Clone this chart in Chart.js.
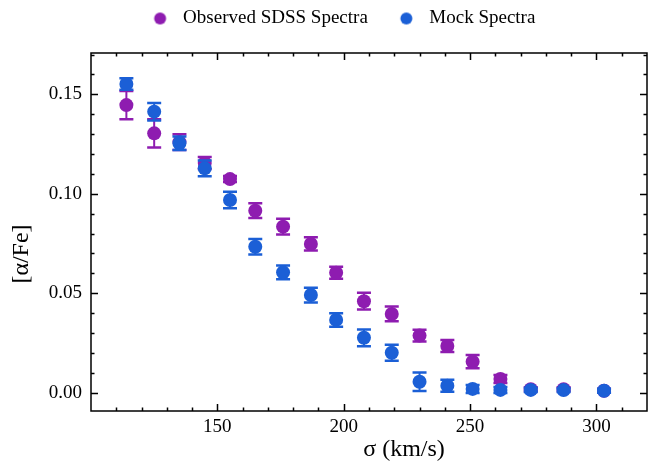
<!DOCTYPE html>
<html>
<head>
<meta charset="utf-8">
<script src="https://cdn.jsdelivr.net/npm/chart.js@4/dist/chart.umd.min.js"></script>
<style>html,body{margin:0;padding:0;background:#fff}</style>
</head>
<body>
<canvas id="c" width="655" height="461" style="display:block;width:655px;height:461px"></canvas>
<script>
// ---- data ----
const sigma = [114, 125, 135, 145, 155, 165, 176, 187, 197, 208, 219, 230, 241, 251, 262, 274, 287, 303];
const observedAlphaFe = [0.1446, 0.1304, 0.1260, 0.1155, 0.1074, 0.0915, 0.0835, 0.0748, 0.0603, 0.0460, 0.0396, 0.0287, 0.0235, 0.0156, 0.0069, 0.0017, 0.0017, 0.0010];
const observedErr     = [0.0071, 0.0071, 0.0040, 0.0030, 0.0015, 0.0037, 0.0040, 0.0033, 0.0030, 0.0042, 0.0037, 0.0030, 0.0030, 0.0033, 0.0020, 0.0010, 0.0010, 0.0010];
const mockAlphaFe     = [0.1552, 0.1413, 0.1254, 0.1128, 0.0969, 0.0734, 0.0605, 0.0491, 0.0366, 0.0276, 0.0201, 0.0055, 0.0035, 0.0019, 0.0014, 0.0014, 0.0013, 0.0010];
const mockErr         = [0.0029, 0.0044, 0.0034, 0.0040, 0.0042, 0.0039, 0.0034, 0.0037, 0.0034, 0.0042, 0.0040, 0.0046, 0.0030, 0.0020, 0.0015, 0.0010, 0.0010, 0.0010];
const seriesNames = ['Observed SDSS Spectra', 'Mock Spectra'];
const xTitle = 'σ (km/s)';
const yTitle = '[α/Fe]';
const xTickValues = [150, 200, 250, 300];
const yTickValues = [0.00, 0.05, 0.10, 0.15];
const xMinorStep = 10;
const yMinorStep = 0.01;

const PURPLE = '#8E1CB0';
const BLUE = '#1B5FD6';
const SERIF = '"Liberation Serif", "Times New Roman", serif';

function legendIcon(color) {
  const c = document.createElement('canvas');
  c.width = 42; c.height = 14;
  const g = c.getContext('2d');
  g.fillStyle = color;
  g.beginPath(); g.arc(28.5, 7, 6, 0, Math.PI * 2); g.fill();
  return c;
}
const icons = [legendIcon(PURPLE), legendIcon(BLUE)];
const errs = [observedErr, mockErr];

const errorBars = {
  id: 'errorBars',
  beforeDatasetDraw(chart, args) {
    const i = args.index;
    const ds = chart.data.datasets[i];
    const e = errs[i];
    const xs = chart.scales.x, ys = chart.scales.y;
    const ctx = chart.ctx;
    ctx.save();
    ctx.strokeStyle = ds.backgroundColor;
    ds.data.forEach((p, k) => {
      const px = xs.getPixelForValue(p.x);
      const y1 = ys.getPixelForValue(p.y - e[k]);
      const y2 = ys.getPixelForValue(p.y + e[k]);
      ctx.lineWidth = 2;
      ctx.beginPath(); ctx.moveTo(px, y1); ctx.lineTo(px, y2); ctx.stroke();
      ctx.lineWidth = 2.5;
      ctx.beginPath();
      ctx.moveTo(px - 7, y1); ctx.lineTo(px + 7, y1);
      ctx.moveTo(px - 7, y2); ctx.lineTo(px + 7, y2);
      ctx.stroke();
    });
    ctx.restore();
  }
};

const frameTicks = {
  id: 'frameTicks',
  afterDraw(chart) {
    const {ctx, chartArea: a} = chart;
    const xs = chart.scales.x, ys = chart.scales.y;
    ctx.save();
    ctx.strokeStyle = '#000';
    ctx.lineWidth = 1.5;
    ctx.strokeRect(a.left, a.top, a.right - a.left, a.bottom - a.top);
    const eps = 1e-9;
    ctx.beginPath();
    for (let v = Math.ceil(xs.min / xMinorStep) * xMinorStep; v <= xs.max + eps; v += xMinorStep) {
      const px = Math.round(xs.getPixelForValue(v)) + 0.5;
      if (px <= a.left + 1 || px >= a.right - 1) continue;
      const major = xTickValues.some(t => Math.abs(t - v) < eps);
      const L = major ? 7 : 3.5;
      ctx.moveTo(px, a.bottom); ctx.lineTo(px, a.bottom - L);
      ctx.moveTo(px, a.top); ctx.lineTo(px, a.top + L);
    }
    for (let n = Math.ceil(ys.min / yMinorStep); n * yMinorStep <= ys.max + eps; n++) {
      const v = n * yMinorStep;
      const py = Math.round(ys.getPixelForValue(v)) + 0.5;
      if (py <= a.top + 1 || py >= a.bottom - 1) continue;
      const major = yTickValues.some(t => Math.abs(t - v) < 1e-6);
      const L = major ? 7 : 3.5;
      ctx.moveTo(a.left, py); ctx.lineTo(a.left + L, py);
      ctx.moveTo(a.right, py); ctx.lineTo(a.right - L, py);
    }
    ctx.stroke();
    // axis titles
    ctx.fillStyle = '#000';
    ctx.font = '24px ' + SERIF;
    ctx.textAlign = 'center';
    ctx.textBaseline = 'middle';
    ctx.fillText(xTitle, 404, 450);
    ctx.translate(22, 254);
    ctx.rotate(-Math.PI / 2);
    ctx.fillText(yTitle, 0, 0);
    ctx.restore();
  }
};

new Chart(document.getElementById('c'), {
  type: 'scatter',
  data: {
    datasets: [
      {
        label: seriesNames[0], order: 1,
        data: sigma.map((s, i) => ({x: s, y: observedAlphaFe[i]})),
        backgroundColor: PURPLE, borderColor: PURPLE, borderWidth: 0,
        pointRadius: 7, pointHoverRadius: 7, pointStyle: 'circle'
      },
      {
        label: seriesNames[1], order: 0,
        data: sigma.map((s, i) => ({x: s, y: mockAlphaFe[i]})),
        backgroundColor: BLUE, borderColor: BLUE, borderWidth: 0,
        pointRadius: 7, pointHoverRadius: 7, pointStyle: 'circle'
      }
    ]
  },
  options: {
    responsive: false,
    animation: false,
    events: [],
    layout: {padding: {top: -1, right: 8, bottom: 0, left: 20}},
    plugins: {
      tooltip: {enabled: false},
      legend: {
        position: 'top',
        labels: {
          usePointStyle: true,
          pointStyleWidth: 42,
          padding: 10,
          color: '#000',
          font: {family: SERIF, size: 19},
          sort: (a, b) => a.datasetIndex - b.datasetIndex,
          generateLabels(chart) {
            const items = Chart.defaults.plugins.legend.labels.generateLabels(chart);
            items.forEach(it => { it.pointStyle = icons[it.datasetIndex]; });
            return items;
          }
        }
      }
    },
    scales: {
      x: {
        type: 'linear', position: 'bottom', min: 100, max: 320,
        afterBuildTicks(s) { s.ticks = xTickValues.map(v => ({value: v})); },
        afterFit(s) { s.height = 50; },
        grid: {display: false, drawTicks: false},
        border: {display: false},
        ticks: {color: '#000', padding: 5, font: {family: SERIF, size: 19}, maxRotation: 0},
        title: {display: false, text: xTitle}
      },
      xTop: {
        type: 'linear', position: 'top', axis: 'x', min: 100, max: 320,
        afterFit(s) { s.height = 15; },
        grid: {display: false, drawTicks: false},
        border: {display: false},
        ticks: {display: false}
      },
      y: {
        type: 'linear', position: 'left', min: -0.0092, max: 0.1708,
        afterBuildTicks(s) { s.ticks = yTickValues.map(v => ({value: v})); },
        afterFit(s) { s.width = 71; },
        grid: {display: false, drawTicks: false},
        border: {display: false},
        ticks: {color: '#000', padding: 9, font: {family: SERIF, size: 19}, callback: v => v.toFixed(2)},
        title: {display: false, text: yTitle}
      }
    }
  },
  plugins: [errorBars, frameTicks]
});
</script>
</body>
</html>
